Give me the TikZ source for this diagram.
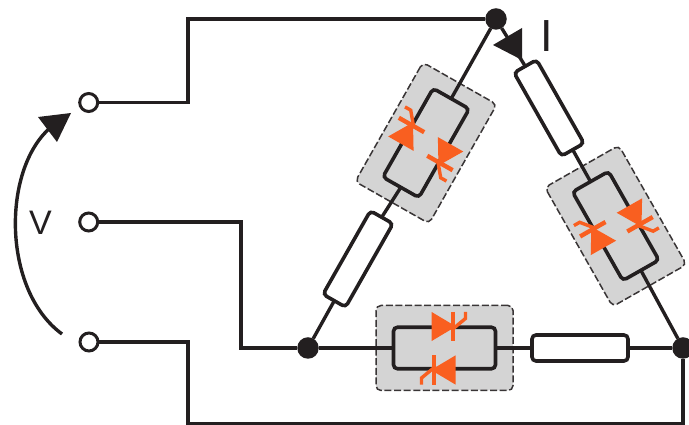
\documentclass[tikz,border=0pt]{standalone}
\usepackage{fontspec}
\setmainfont{Liberation Sans}
\definecolor{ink}{HTML}{231F20}
\definecolor{zap}{HTML}{F95F20}
\definecolor{panel}{HTML}{D4D4D4}
\tikzset{
  wire/.style={draw=ink,line width=3.4pt,line join=miter},
  junction/.style={circle,fill=ink,draw=none,minimum size=21.5pt,inner sep=0pt,outer sep=0pt},
  terminal/.style={circle,fill=white,draw=ink,line width=3pt,minimum size=18pt,inner sep=0pt,outer sep=0pt},
  resbody/.style={rectangle,rounded corners=4pt,fill=white,draw=ink,line width=3.6pt,minimum width=96pt,minimum height=26pt,inner sep=0pt,outer sep=0pt},
  varbody/.style={rectangle,rounded corners=4pt,draw=ink,line width=3.6pt,minimum width=102pt,minimum height=41.5pt,inner sep=0pt,outer sep=0pt},
  varpanel/.style={rectangle,rounded corners=5pt,fill=panel,draw=ink!90,line width=1.5pt,dash pattern=on 7pt off 2.6pt,minimum width=137pt,minimum height=85pt,inner sep=0pt,outer sep=0pt},
  label/.style={inner sep=0pt,outer sep=0pt,anchor=base,text=ink}
}
% one zener symbol: tip at the origin, pointing along +x
\newcommand{\zenermark}[3]{%
  \begin{scope}[shift={(#1,#2)},rotate=#3]
    \fill[zap] (0,0) -- (-24.5,14.6) -- (-24.5,-14.6) -- cycle;
    \draw[zap,line width=4.4pt] (-3,14.6) -- (-3,-14.6);
    \draw[zap,line width=3.4pt] (-2,-1.5) -- (9.5,8) -- (9.5,14.6);
  \end{scope}}
\newcommand{\varpanelat}[4]{%
  \begin{scope}[shift={(#2,#3)},rotate=#4,transform shape]
    \node[varpanel] (#1p) at (0,0) {};
  \end{scope}}
\newcommand{\varbodyat}[4]{%
  \begin{scope}[shift={(#2,#3)},rotate=#4,transform shape]
    \node[varbody] (#1) at (0,0) {};
    \zenermark{11.5}{21.5}{0}
    \zenermark{-13.5}{-22}{180}
  \end{scope}}
\newcommand{\resat}[4]{%
  \begin{scope}[shift={(#2,#3)},rotate=#4,transform shape]
    \node[resbody] (#1) at (0,0) {};
  \end{scope}}
\begin{document}
\begin{tikzpicture}[x=1pt,y=1pt]
\useasboundingbox (0,0) rectangle (689,425);
% panels
\varpanelat{lv}{426}{282}{60.4}
\varpanelat{rv}{615.7}{199}{119.6}
\varpanelat{bv}{444.5}{77}{0}
% junctions and terminals
\node[junction] (T) at (496,406) {};
\node[junction] (L) at (308,77) {};
\node[junction] (R) at (683,77) {};
\node[terminal] (a) at (88.7,322.5) {};
\node[terminal] (b) at (88.7,203) {};
\node[terminal] (c) at (89,83) {};
\coordinate (a1) at (188,322.5);
\coordinate (a2) at (188,406);
\coordinate (b1) at (241,203);
\coordinate (b2) at (241,77);
\coordinate (c1) at (188,83);
\coordinate (c2) at (188,1.6);
\coordinate (c3) at (683,1.6);
% bodies
\resat{lr}{358}{166}{60.4}
\resat{rr}{549}{317}{119.6}
\resat{br}{580}{77}{0}
\varbodyat{lv}{426}{282}{60.4}
\varbodyat{rv}{615.7}{199}{119.6}
\varbodyat{bv}{444.5}{77}{0}
% wires
\draw[wire] (a) -- (a1) -- (a2) -- (T);
\draw[wire] (b) -- (b1) -- (b2) -- (L);
\draw[wire] (c) -- (c1) -- (c2) -- (c3) -- (R);
\draw[wire] (T) -- (lv.east);
\draw[wire] (lv.west) -- (lr.east);
\draw[wire] (lr.west) -- (L);
\draw[wire] (T) -- (rr.east);
\draw[wire] (rr.west) -- (rv.east);
\draw[wire] (rv.west) -- (R);
\draw[wire] (L) -- (bv.west);
\draw[wire] (bv.east) -- (br.west);
\draw[wire] (br.east) -- (R);
% current arrow
\fill[ink] (493,380) -- (522,397) -- (522,365) -- cycle;
% voltage arrow
\coordinate (vs) at (62,91);
\coordinate (ve) at (50,297);
\draw[ink,line width=3.4pt] (vs) .. controls (2,135) and (2,255) .. (ve);
\fill[ink] (71,312) -- (38,308) -- (57,283) -- cycle;
% labels
\node[label,font=\fontsize{34}{34}\selectfont] (vl) at (40.5,190) {V};
\node[label,font=\fontsize{45}{45}\selectfont] (il) at (546.7,373) {I};
\end{tikzpicture}
\end{document}
